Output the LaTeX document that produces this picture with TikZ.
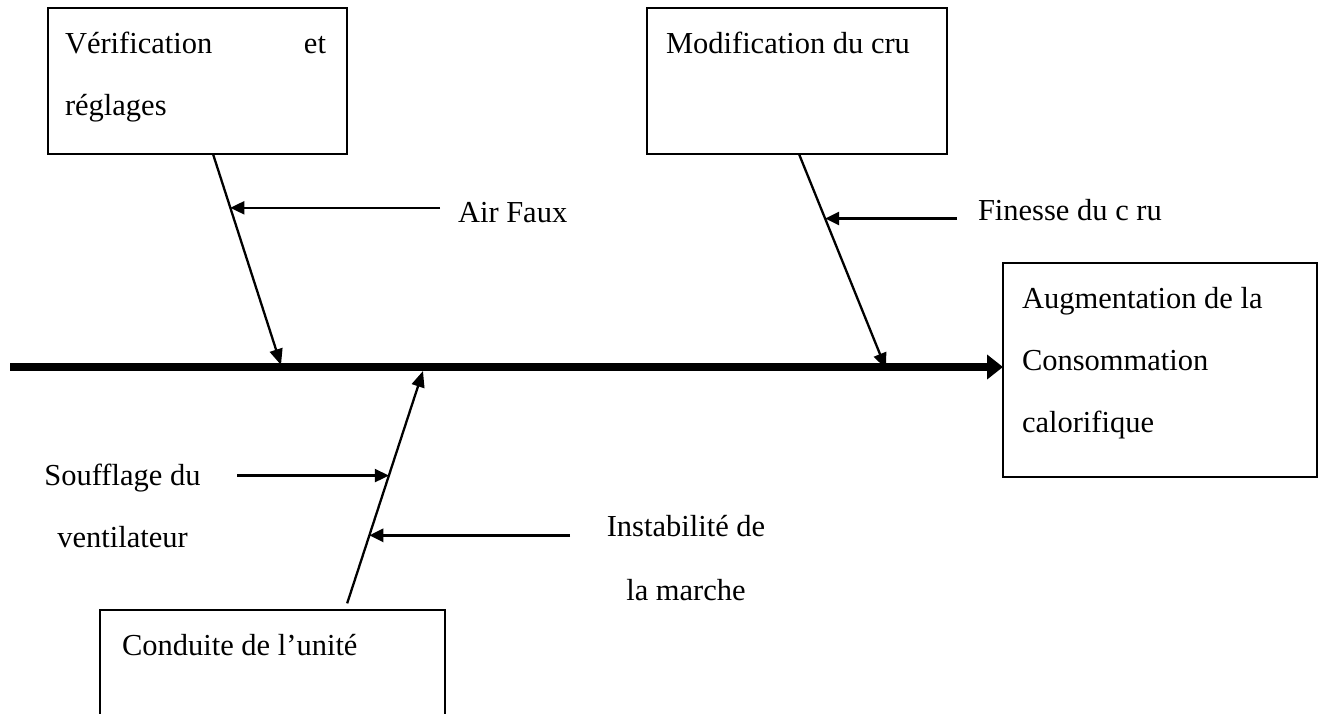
\documentclass[tikz,border=0pt]{standalone}
\usepackage{fontspec}
\setmainfont{Liberation Serif}
\usetikzlibrary{arrows.meta,calc}
\newcommand\figfont{\fontsize{30.5pt}{62pt}\selectfont}
\begin{document}
\begin{tikzpicture}[x=1pt,y=-1pt,
  box/.style={draw, line width=1.8pt, inner sep=0pt, outer sep=0pt, anchor=north west},
  boxtext/.style={inner sep=0pt, outer sep=0pt, anchor=base west, font=\figfont},
  ctext/.style={inner sep=0pt, outer sep=0pt, anchor=base, font=\figfont},
  branch/.style={line width=2.3pt, -{Triangle[length=16pt,width=13pt]}},
  cause/.style={line width=2.3pt, -{Triangle[length=14pt,width=13pt]}},
  spine/.style={line width=7.5pt, -{Triangle[length=16pt,width=24pt]}}]

\fill[white] (0,0) rectangle (1325,713);
\useasboundingbox (0,0) rectangle (1325,713);

% boxes
\node[box, minimum width=299pt, minimum height=146pt] (b1) at (48,8) {};
\node[box, minimum width=300pt, minimum height=146pt] (b2) at (647,8) {};
\node[box, minimum width=314pt, minimum height=214pt] (b3) at (1003,263) {};
\node[box, minimum width=345pt, minimum height=120pt] (b4) at (100,610) {};

% box texts
\node[boxtext] (t1) at (65,53) {\parbox[t]{261pt}{Vérification\hfill et\\réglages}};
\node[boxtext] (t2) at (666,53) {Modification du cru};
\node[boxtext] (t3) at (1022,308) {\parbox[t]{280pt}{Augmentation de la\\Consommation\\calorifique}};
\node[boxtext] (t4) at (122,655) {Conduite de l’unité};

% cause labels
\node[boxtext] (l1) at (458,222) {Air Faux};
\node[boxtext] (l2) at (978,220) {Finesse du c ru};
\node[ctext] (l3) at (122.5,485) {\parbox[t]{220pt}{\centering Soufflage du\\ventilateur}};
\node[ctext] (l4) at (686,536) {\parbox[t]{220pt}{\centering Instabilité de\\[2pt]la marche}};

% spine
\coordinate (s0) at (10,367);
\draw[spine] (s0) -- (s0 -| b3.west);

% branches
\coordinate (e1) at (281,365);
\coordinate (e2) at (886,369);
\coordinate (e3) at (423,371);
\draw[branch] ([xshift=15.5pt]b1.south) -- (e1);
\draw[branch] ([xshift=2pt]b2.south) -- (e2);
\draw[branch, shorten <=7pt] ([xshift=72.5pt]b4.north) -- (e3);

% points on branches
\coordinate (p1) at ($([xshift=15.5pt]b1.south)!0.255!(e1)$);
\coordinate (p2) at ($([xshift=2pt]b2.south)!0.3!(e2)$);
\coordinate (p3) at ($([xshift=72.5pt]b4.north)!0.5625!(e3)$);
\coordinate (p4) at ($([xshift=72.5pt]b4.north)!0.3125!(e3)$);

% tails
\coordinate (a1) at (440,208);
\coordinate (a2) at (957,219);
\coordinate (a3) at (237,475);
\coordinate (a4) at (570,535);

\draw[cause] (a1 |- p1) -- (p1);
\draw[cause] (a2 |- p2) -- (p2);
\draw[cause] (a3 |- p3) -- (p3);
\draw[cause, line width=3.2pt] (a4 |- p4) -- (p4);
\end{tikzpicture}
\end{document}
